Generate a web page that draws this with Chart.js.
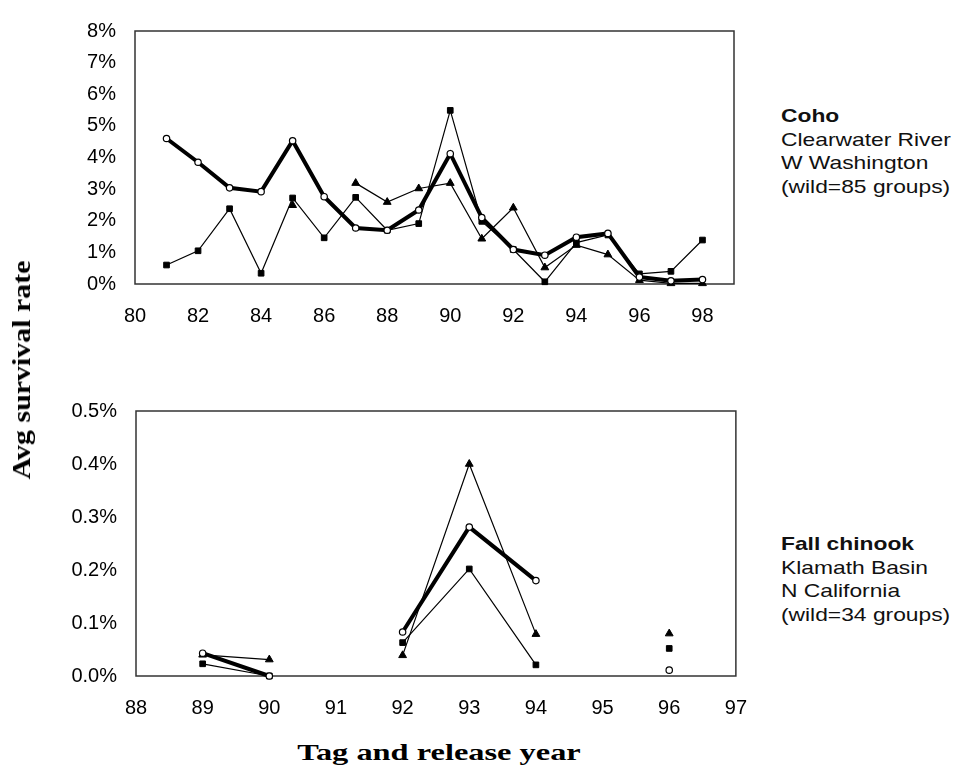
<!DOCTYPE html>
<html>
<head>
<meta charset="utf-8">
<script src="https://cdn.jsdelivr.net/npm/chart.js@4"></script>
<style>
  body { margin: 0; background: #fff; }
  #page { position: relative; width: 956px; height: 769px; overflow: hidden; background: #fff;
          font-family: "Liberation Sans", Arial, sans-serif; color: #000; }
  canvas { position: absolute; left: 0; }
  #cohoCanvas { top: 0; }
  #chinookCanvas { top: 380px; }
  .side { position: absolute; left: 781px; font-size: 19px; line-height: 23.5px; white-space: nowrap;
          transform: scaleX(1.2); transform-origin: left top; color: #111; }
  .side b { font-weight: bold; }
  #ytitle { position: absolute; left: 22px; top: 370px; white-space: nowrap;
            font: bold 26px "Liberation Serif", "Times New Roman", serif;
            transform: translate(-50%, -50%) rotate(-90deg) scaleX(1.15); }
  #xtitle { position: absolute; left: 439px; top: 752px; white-space: nowrap;
            font: bold 24px "Liberation Serif", "Times New Roman", serif;
            transform: translate(-50%, -50%) scaleX(1.35); }
</style>
</head>
<body>
<div id="page">
  <canvas id="cohoCanvas" width="760" height="330"></canvas>
  <canvas id="chinookCanvas" width="767" height="336"></canvas>
  <div class="side" style="top:104px"><b>Coho</b><br>Clearwater River<br>W Washington<br>(wild=85 groups)</div>
  <div class="side" style="top:532px"><b>Fall chinook</b><br>Klamath Basin<br>N California<br>(wild=34 groups)</div>
  <div id="ytitle">Avg survival rate</div>
  <div id="xtitle">Tag and release year</div>
</div>
<script>
// ---- data (survival rate in %) ----
const cohoYears = [81, 82, 83, 84, 85, 86, 87, 88, 89, 90, 91, 92, 93, 94, 95, 96, 97, 98];
const cohoCircle = [4.60, 3.85, 3.04, 2.92, 4.53, 2.76, 1.77, 1.70, 2.34, 4.12, 2.10, 1.09, 0.91, 1.48, 1.60, 0.22, 0.10, 0.14];
const cohoSquare = [0.60, 1.05, 2.38, 0.34, 2.72, 1.46, 2.74, 1.70, 1.91, 5.49, 1.98, 1.09, 0.07, 1.31, 1.55, 0.32, 0.40, 1.39];
const cohoTriangle = [null, null, null, null, 2.49, null, 3.19, 2.59, 3.02, 3.19, 1.43, 2.41, 0.52, 1.23, 0.93, 0.12, 0.02, 0.02];
const cohoXTicks = [80, 82, 84, 86, 88, 90, 92, 94, 96, 98];

const chinookYears = [89, 90, 91, 92, 93, 94, 95, 96];
const chinookCircle = [0.043, 0.000, null, 0.083, 0.281, 0.180, null, 0.011];
const chinookSquare = [0.023, 0.000, null, 0.063, 0.202, 0.021, null, 0.052];
const chinookTriangle = [0.040, 0.031, null, 0.039, 0.400, 0.079, null, 0.080];
const chinookXTicks = [88, 89, 90, 91, 92, 93, 94, 95, 96, 97];

// box around the plot area
const framePlugin = {
  id: 'frame',
  beforeDatasetsDraw(chart) {
    const { ctx, chartArea: a } = chart;
    ctx.save();
    ctx.strokeStyle = '#333';
    ctx.lineWidth = 1.5;
    ctx.strokeRect(a.left, a.top, a.right - a.left, a.bottom - a.top);
    ctx.restore();
  }
};

function points(xs, ys) {
  return xs.map((x, i) => ({ x: x, y: ys[i] }));
}

function series(xs, ys, kind) {
  const base = { data: points(xs, ys), borderColor: '#000', spanGaps: false, clip: false, tension: 0 };
  if (kind === 'circle') {
    return Object.assign(base, { borderWidth: 4, pointStyle: 'circle', pointRadius: 3.2,
      pointBackgroundColor: '#fff', pointBorderColor: '#000', pointBorderWidth: 1.2 });
  }
  if (kind === 'square') {
    return Object.assign(base, { borderWidth: 1.2, pointStyle: 'rect', pointRadius: 4,
      pointBackgroundColor: '#000', pointBorderColor: '#000', pointBorderWidth: 1 });
  }
  return Object.assign(base, { borderWidth: 1.2, pointStyle: 'triangle', pointRadius: 4.5,
    pointBackgroundColor: '#000', pointBorderColor: '#000', pointBorderWidth: 1 });
}

function makeChart(id, cfg) {
  const tickFont = { family: '"Liberation Sans", Arial, sans-serif', size: 20 };
  return new Chart(document.getElementById(id), {
    type: 'line',
    data: {
      datasets: [
        series(cfg.xs, cfg.circle, 'circle'),
        series(cfg.xs, cfg.square, 'square'),
        series(cfg.xs, cfg.triangle, 'triangle')
      ]
    },
    options: {
      responsive: false,
      animation: false,
      layout: { padding: cfg.padding },
      plugins: { legend: { display: false }, tooltip: { enabled: false } },
      scales: {
        x: {
          type: 'linear', min: cfg.xMin, max: cfg.xMax,
          grid: { display: false, drawTicks: false }, border: { display: false },
          afterBuildTicks: s => { s.ticks = cfg.xTicks.map(v => ({ value: v })); },
          afterFit: s => { s.height = cfg.xHeight; },
          ticks: { color: '#000', font: tickFont, padding: 20, maxRotation: 0, autoSkip: false,
                   callback: v => String(v) }
        },
        y: {
          min: 0, max: cfg.yMax,
          grid: { display: false, drawTicks: false }, border: { display: false },
          afterFit: s => { s.width = cfg.yWidth; },
          ticks: { color: '#000', font: tickFont, padding: 19, stepSize: cfg.yStep,
                   callback: cfg.yFmt }
        }
      }
    },
    plugins: [framePlugin]
  });
}

makeChart('cohoCanvas', {
  xs: cohoYears, circle: cohoCircle, square: cohoSquare, triangle: cohoTriangle,
  xMin: 80, xMax: 99, xTicks: cohoXTicks, yMax: 8, yStep: 1,
  yFmt: v => Math.round(v) + '%',
  padding: { top: 19, right: 26, left: 0, bottom: 0 }, yWidth: 135, xHeight: 46
});

// the last x label sits on the right edge, so Chart.js reserves ~31px there
makeChart('chinookCanvas', {
  xs: chinookYears, circle: chinookCircle, square: chinookSquare, triangle: chinookTriangle,
  xMin: 88, xMax: 97, xTicks: chinookXTicks, yMax: 0.5, yStep: 0.1,
  yFmt: v => v.toFixed(1) + '%',
  padding: { top: 30, right: 24, left: 0, bottom: 0 }, yWidth: 136, xHeight: 40
});
</script>
</body>
</html>
